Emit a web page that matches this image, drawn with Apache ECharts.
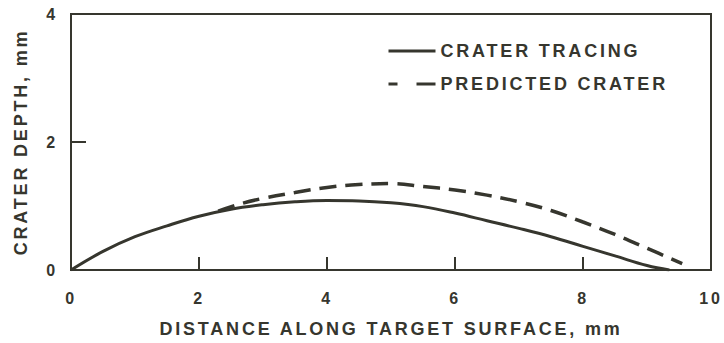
<!DOCTYPE html>
<html>
<head>
<meta charset="utf-8">
<script src="https://cdn.jsdelivr.net/npm/echarts@6/dist/echarts.min.js"></script>
<style>
  html, body { margin: 0; padding: 0; background: #ffffff; }
  #chart { width: 724px; height: 343px; }
  #chart svg text { letter-spacing: 2.8px; }
</style>
</head>
<body>
<div id="chart"></div>
<script>
// ---- data ----
const xTicks = [0, 2, 4, 6, 8, 10];
const yTicks = [0, 2, 4];

const tracingX = [0, 0.5, 1, 1.5, 2, 2.5, 3, 3.5, 4, 4.5, 5, 5.5, 6, 6.5, 7, 7.5, 8, 8.5, 9, 9.35];
const tracingY = [0, 0.29, 0.52, 0.69, 0.84, 0.95, 1.02, 1.065, 1.085, 1.08, 1.05, 0.99, 0.89, 0.77, 0.65, 0.52, 0.37, 0.22, 0.07, 0];

const predictedX = [2.3, 2.6, 3, 3.5, 4, 4.5, 5, 5.5, 6, 6.5, 7, 7.5, 8, 8.5, 9, 9.55];
const predictedY = [0.92, 1.02, 1.12, 1.21, 1.29, 1.335, 1.35, 1.305, 1.25, 1.17, 1.065, 0.93, 0.75, 0.555, 0.34, 0.1];

const seriesNames = ['CRATER TRACING', 'PREDICTED CRATER'];
const xTitle = 'DISTANCE ALONG TARGET SURFACE, mm';
const yTitle = 'CRATER DEPTH, mm';

// ---- chart ----
const ink = '#36362e';
const font = '"Liberation Sans", Arial, Helvetica, sans-serif';
const zip = (xs, ys) => xs.map((x, i) => [x, ys[i]]);

const chart = echarts.init(document.getElementById('chart'), null, { renderer: 'svg' });
chart.setOption({
  backgroundColor: '#ffffff',
  animation: false,
  grid: {
    left: 71, right: 13, top: 14, bottom: 73,
    show: true, borderColor: ink, borderWidth: 2, backgroundColor: 'transparent',
    outerBoundsMode: 'none'
  },
  legend: {
    orient: 'vertical',
    left: 382, top: 37,
    itemWidth: 47, itemHeight: 14, itemGap: 15,
    itemStyle: { opacity: 0 },
    textStyle: { color: ink, fontFamily: font, fontWeight: 'bold', fontSize: 18 },
    data: [
      { name: seriesNames[0], lineStyle: { width: 3 } },
      { name: seriesNames[1], lineStyle: { type: [9, 19, 21], width: 3 } }
    ]
  },
  xAxis: {
    type: 'value', min: xTicks[0], max: xTicks[xTicks.length - 1], interval: 2,
    name: xTitle, nameLocation: 'middle', nameGap: 50,
    nameTextStyle: { color: ink, fontFamily: font, fontWeight: 'bold', fontSize: 18 },
    axisLine: { show: true, lineStyle: { color: ink, width: 2 } },
    axisTick: { show: true, inside: true, length: 13, lineStyle: { color: ink, width: 2 } },
    axisLabel: { color: ink, fontFamily: font, fontWeight: 'bold', fontSize: 16, margin: 20 },
    splitLine: { show: false }
  },
  yAxis: {
    type: 'value', min: yTicks[0], max: yTicks[yTicks.length - 1], interval: 2,
    name: yTitle, nameLocation: 'middle', nameGap: 41,
    nameTextStyle: { color: ink, fontFamily: font, fontWeight: 'bold', fontSize: 18 },
    axisLine: { show: true, lineStyle: { color: ink, width: 2 } },
    axisTick: { show: true, inside: true, length: 15, lineStyle: { color: ink, width: 2 } },
    axisLabel: { color: ink, fontFamily: font, fontWeight: 'bold', fontSize: 16, margin: 13 },
    splitLine: { show: false }
  },
  series: [
    {
      name: seriesNames[0], type: 'line', symbol: 'none', smooth: 0.4,
      data: zip(tracingX, tracingY),
      lineStyle: { color: ink, width: 3 }, itemStyle: { color: ink }
    },
    {
      name: seriesNames[1], type: 'line', symbol: 'none', smooth: 0.4,
      data: zip(predictedX, predictedY),
      lineStyle: { color: ink, width: 3.5, type: [17, 9] }, itemStyle: { color: ink }
    }
  ]
});
</script>
</body>
</html>
